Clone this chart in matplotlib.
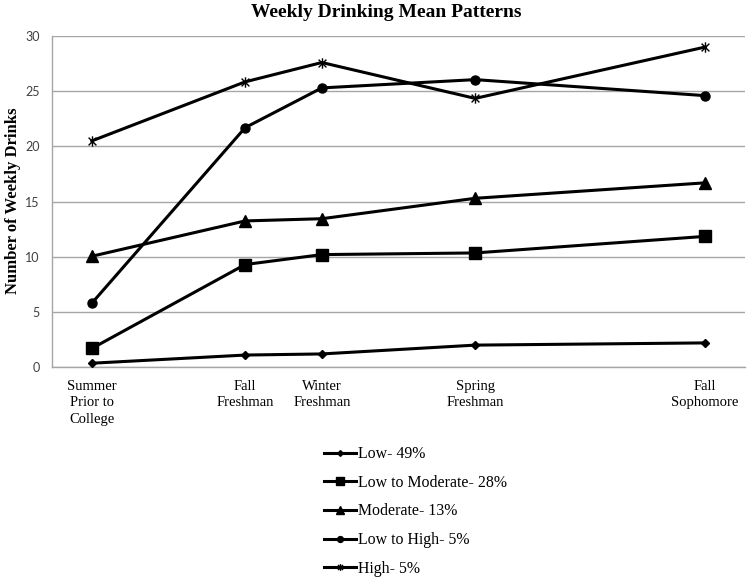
import matplotlib
matplotlib.use('Agg')
from matplotlib import pyplot as plt
from matplotlib.path import Path

# time points (spacing follows the original axis)
waves = [0, 2, 3, 5, 8]
wave_labels = ['Summer\nPrior to\nCollege', 'Fall\nFreshman', 'Winter\nFreshman',
               'Spring\nFreshman', 'Fall\nSophomore']

low = [0.36, 1.1, 1.2, 2.0, 2.2]
low_mod = [1.7, 9.3, 10.2, 10.35, 11.85]
moderate = [10.05, 13.25, 13.45, 15.3, 16.7]
low_high = [5.8, 21.7, 25.3, 26.05, 24.6]
high = [20.5, 25.85, 27.6, 24.35, 29.0]

names = ['Low- 49%', 'Low to Moderate- 28%', 'Moderate- 13%', 'Low to High- 5%', 'High- 5%']

star = Path([(0, -1), (0, 1), (-0.75, -0.75), (0.75, 0.75), (-0.75, 0.75), (0.75, -0.75)],
            [Path.MOVETO, Path.LINETO, Path.MOVETO, Path.LINETO, Path.MOVETO, Path.LINETO])

estilos = [('D', 4.5), ('s', 8), ('^', 8.5), ('o', 6.5), (star, 7.5)]
series = [low, low_mod, moderate, low_high, high]

serif = 'Liberation Serif'

fig = plt.figure(figsize=(7.5, 5.81), dpi=100)
ax = fig.add_axes([0.0693, 0.368, 0.924, 0.570])

linhas = []
for dados, nome, (mk, ms) in zip(series, names, estilos):
    l, = ax.plot(waves, dados, color='black', lw=2.2, marker=mk, markersize=ms,
                 markeredgewidth=1.0, markerfacecolor='black', markeredgecolor='black',
                 label=nome, clip_on=False, zorder=3)
    linhas.append(l)

ax.set_xlim(-0.52, 8.52)
ax.set_ylim(0, 30)
ax.set_yticks(range(0, 31, 5))
ax.set_xticks(waves)
ax.set_xticklabels(wave_labels, fontfamily=serif, fontsize=10.5, linespacing=1.35, va='top')
ax.tick_params(axis='x', length=0, pad=9)
ax.tick_params(axis='y', length=0, pad=9, labelsize=9, labelcolor='#404040')
for t in ax.get_yticklabels():
    t.set_fontfamily('Lato')
ax.grid(axis='y', color='#a6a6a6', lw=1)
ax.set_axisbelow(True)
for s in ['top', 'right']:
    ax.spines[s].set_visible(False)
for s in ['left', 'bottom']:
    ax.spines[s].set_color('#a6a6a6')
    ax.spines[s].set_linewidth(1)

# titulo do eixo y colocado na figura para nao cortar
fig.text(0.017, 0.654, 'Number of Weekly Drinks', rotation=90, ha='center', va='center',
         fontfamily=serif, fontweight='bold', fontsize=12)
fig.text(0.515, 0.979, 'Weekly Drinking Mean Patterns', ha='center', va='center',
         fontfamily=serif, fontweight='bold', fontsize=14)

leg = fig.legend(handles=linhas, loc='upper left', bbox_to_anchor=(0.424, 0.243),
                 frameon=False, prop={'family': serif, 'size': 11.4}, markerscale=0.65,
                 handlelength=2.0, handletextpad=0.1, labelspacing=0.8, borderaxespad=0)

plt.savefig('out.png', dpi=100)
